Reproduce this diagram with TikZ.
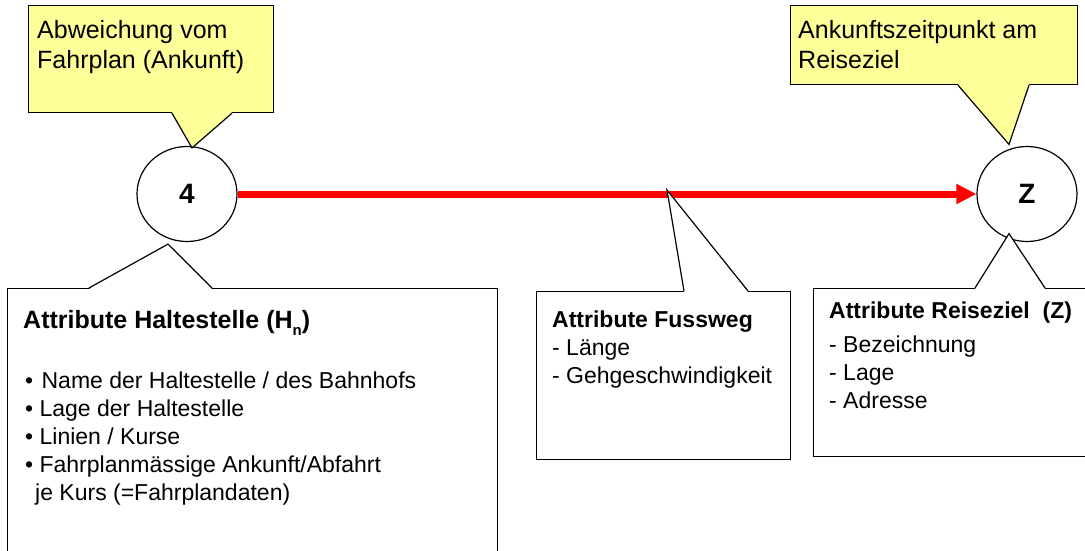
\documentclass[tikz,border=0pt]{standalone}
\usepackage{fontspec}
\setmainfont{Liberation Sans}
\usetikzlibrary{arrows.meta,shapes.geometric}

\definecolor{notizgelb}{HTML}{FFFF99}
\definecolor{wegrot}{HTML}{FF0000}

% mehrzeilige Texte sitzen mit der Grundlinie ihrer letzten Zeile
\tikzset{
    haltepunkt/.style={draw, ellipse, line width=1.2pt, minimum width=100pt, minimum height=95pt, inner sep=0pt, font=\fontsize{28}{28}\selectfont\bfseries},
    kasten/.style={draw, line width=1.2pt, fill=white, anchor=north west, inner sep=0pt},
    notiz/.style={kasten, fill=notizgelb},
    zunge/.style={line width=1.2pt, line join=miter},
    notiztext/.style={anchor=base west, align=left, inner sep=0pt, font=\fontsize{25}{30}\selectfont},
    kastentext/.style={anchor=base west, align=left, inner sep=0pt, font=\fontsize{23}{28}\selectfont}
}

\begin{document}
\begin{tikzpicture}[x=1pt,y=-1pt]
\useasboundingbox (0,0) rectangle (1085,550);

% Haltestelle, Reiseziel und Fussweg
\node[haltepunkt] (n4) at (187,194) {4};
\node[haltepunkt] (nZ) at (1027,194) {Z};
\draw[wegrot, line width=7pt, -{Triangle[length=20pt,width=19pt]}] (n4) -- (nZ);
\coordinate (fw) at (667,190);

% gelbe Notizen oben
\node[notiz, minimum width=245pt, minimum height=107pt] (abw) at (28,5) {};
\fill[notizgelb] ([shift={(144,-1)}]abw.south west) -- ([shift={(5,2)}]n4.north) -- ([shift={(204,-1)}]abw.south west) -- cycle;
\draw[zunge] ([xshift=144pt]abw.south west) -- ([shift={(5,2)}]n4.north) -- ([xshift=204pt]abw.south west);
\node[notiztext] (abw-text) at ([shift={(9,63)}]abw.north west) {Abweichung vom\\Fahrplan (Ankunft)};

\node[notiz, minimum width=287pt, minimum height=79pt] (ank) at (790,5) {};
\fill[notizgelb] ([shift={(168,-1)}]ank.south west) -- ([shift={(-18,-1.5)}]nZ.north) -- ([shift={(239,-1)}]ank.south west) -- cycle;
\draw[zunge] ([xshift=168pt]ank.south west) -- ([shift={(-18,-1.5)}]nZ.north) -- ([xshift=239pt]ank.south west);
\node[notiztext] (ank-text) at ([shift={(8,63)}]ank.north west) {Ankunftszeitpunkt am\\Reiseziel};

% Attribut-Kaesten unten
\node[kasten, minimum width=490pt, minimum height=300pt] (halt) at (7,288) {};
\fill[white] ([shift={(82,1)}]halt.north west) -- ([shift={(-19,2)}]n4.south) -- ([shift={(205,1)}]halt.north west) -- cycle;
\draw[zunge] ([xshift=82pt]halt.north west) -- ([shift={(-19,2)}]n4.south) -- ([xshift=205pt]halt.north west);
\node[notiztext, font=\fontsize{25}{30}\selectfont\bfseries] (halt-titel) at ([shift={(16,40)}]halt.north west)
    {Attribute Haltestelle (H\raisebox{-7pt}{\fontsize{15}{15}\selectfont n})};
\node[kastentext] (halt-liste) at ([shift={(18,212)}]halt.north west)
    {\textbullet\ \kern2pt Name der Haltestelle / des Bahnhofs\\
     \textbullet\ Lage der Haltestelle\\
     \textbullet\ Linien / Kurse\\
     \textbullet\ Fahrplanmässige Ankunft/Abfahrt\\
     \hspace*{10pt}je Kurs (=Fahrplandaten)};

\node[kasten, minimum width=254pt, minimum height=168pt] (fuss) at (536,291) {};
\fill[white] ([shift={(148,1)}]fuss.north west) -- (fw) -- ([shift={(212,1)}]fuss.north west) -- cycle;
\draw[zunge] ([xshift=148pt]fuss.north west) -- (fw) -- ([xshift=212pt]fuss.north west);
\node[kastentext] (fuss-text) at ([shift={(16,92)}]fuss.north west)
    {\textbf{Attribute Fussweg}\\- Länge\\- Gehgeschwindigkeit};

\node[kasten, minimum width=300pt, minimum height=168pt] (ziel) at (813,288) {};
\fill[white] ([shift={(162,1)}]ziel.north west) -- ([shift={(-18,-8.5)}]nZ.south) -- ([shift={(232,1)}]ziel.north west) -- cycle;
\draw[zunge] ([xshift=162pt]ziel.north west) -- ([shift={(-18,-8.5)}]nZ.south) -- ([xshift=232pt]ziel.north west);
\node[kastentext] (ziel-text) at ([shift={(16,120)}]ziel.north west)
    {\textbf{Attribute Reiseziel\ \ (Z)}\\[6pt]- Bezeichnung\\- Lage\\- Adresse};
\end{tikzpicture}
\end{document}
